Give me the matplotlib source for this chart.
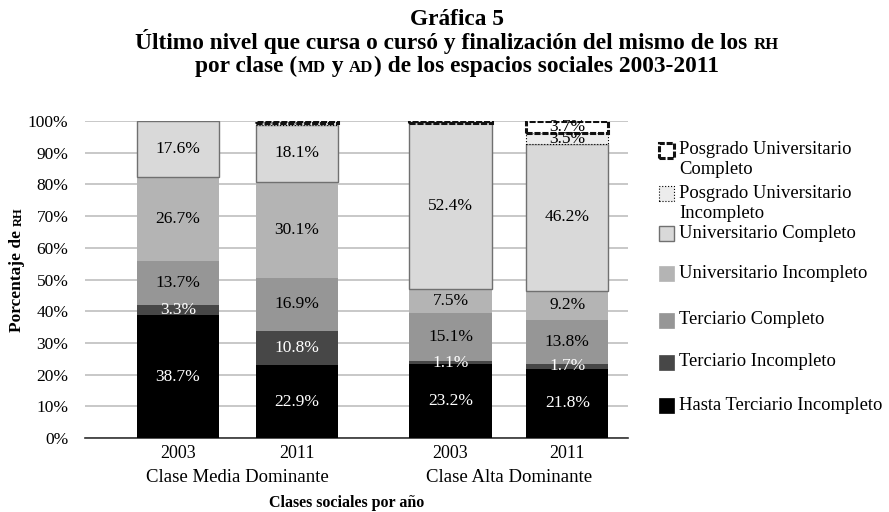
import matplotlib
matplotlib.use("Agg")
import matplotlib.pyplot as plt
from matplotlib.patches import Rectangle
import numpy as np

plt.rcParams['font.family'] = ['Liberation Serif', 'DejaVu Serif']

years = ["2003", "2011", "2003", "2011"]
classes = ["Clase Media Dominante", "Clase Alta Dominante"]
series_names = ["Hasta Terciario Incompleto", "Terciario Incompleto", "Terciario Completo",
                "Universitario Incompleto", "Universitario Completo",
                "Posgrado Universitario\nIncompleto", "Posgrado Universitario\nCompleto"]
hasta_ti = [38.7, 22.9, 23.2, 21.8]
terc_inc = [3.3, 10.8, 1.1, 1.7]
terc_comp = [13.7, 16.9, 15.1, 13.8]
univ_inc = [26.7, 30.1, 7.5, 9.2]
univ_comp = [17.6, 18.1, 52.4, 46.2]
posg_inc = [0.0, 0.5, 0.0, 3.5]
posg_comp = [0.0, 0.7, 0.7, 3.7]
show_label = [
    [True, True, True, True],
    [True, True, True, True],
    [True, True, True, True],
    [True, True, True, True],
    [True, True, True, True],
    [False, False, False, True],
    [False, False, False, True],
]

series = [hasta_ti, terc_inc, terc_comp, univ_inc, univ_comp, posg_inc, posg_comp]
facecolors = ["#000000", "#474747", "#969696", "#b4b4b4", "#d9d9d9", "#ececec", "#ffffff"]
edgecolors = ["none", "none", "none", "none", "#707070", "#000000", "#111111"]
linestyles = ["solid", "solid", "solid", "solid", "solid", ":", (0, (2.0, 0.6))]
linewidths = [0, 0, 0, 0, 1.0, 0.8, 2.2]
textcolors = ["white", "white", "black", "black", "black", "black", "black"]

W, H = 889, 512
fig = plt.figure(figsize=(W / 100, H / 100), dpi=100)
ax = fig.add_axes([85 / W, 1 - 438 / H, (628 - 85) / W, (438 - 121) / H])

x = np.array([0.0, 1.0, 2.29, 3.27])
width = 0.69
bottom = np.zeros(4)
for i, vals in enumerate(series):
    vals = np.array(vals)
    nz = vals > 0
    ax.bar(x[nz], vals[nz], width, bottom=bottom[nz], color=facecolors[i], edgecolor=edgecolors[i],
           linewidth=linewidths[i], linestyle=linestyles[i], zorder=3)
    for j in range(4):
        if show_label[i][j] and vals[j] > 0:
            ax.text(x[j], bottom[j] + vals[j] / 2, f"{vals[j]:.1f}%", ha="center", va="center",
                    fontsize=12.5, color=textcolors[i], zorder=5)
    bottom = bottom + vals

ax.set_ylim(0, 100)
ax.set_xlim(-0.78, 3.78)
ax.set_yticks(np.arange(0, 101, 10))
ax.set_yticklabels([f"{v}%" for v in range(0, 101, 10)], fontsize=12.5)
ax.yaxis.grid(True, color="#bfbfbf", linewidth=1.2, zorder=0)
ax.set_axisbelow(True)
for s in ["top", "right", "left"]:
    ax.spines[s].set_visible(False)
ax.spines["bottom"].set_color("#333333")
ax.spines["bottom"].set_linewidth(1.2)
ax.tick_params(axis="y", length=0, pad=12)
ax.tick_params(axis="x", length=0, pad=5)
ax.set_xticks(x)
ax.set_xticklabels(years, fontsize=13)
ax.text((x[0] + x[1]) / 2, -0.125, classes[0], transform=ax.get_xaxis_transform(), ha="center", va="center", fontsize=13.5)
ax.text((x[2] + x[3]) / 2, -0.125, classes[1], transform=ax.get_xaxis_transform(), ha="center", va="center", fontsize=13.5)

fig.text(347 / W, 1 - 503 / H, "Clases sociales por año", ha="center", va="center",
         fontsize=11.5, fontweight="bold")

fig.canvas.draw()
renderer = fig.canvas.get_renderer()


def draw_segments(yc, segments, size, weight="bold", xc=457):
    widths = []
    objs = []
    for txt, sc in segments:
        t = fig.text(0, 1 - yc / H, txt, fontsize=size * sc, fontweight=weight, va="baseline", ha="left")
        bb = t.get_window_extent(renderer)
        widths.append(bb.width)
        objs.append(t)
    total = sum(widths)
    cur = xc - total / 2
    for t, w in zip(objs, widths):
        t.set_x(cur / W)
        cur += w


draw_segments(25, [("Gráfica 5", 1.0)], 16.8)
draw_segments(49, [("Último nivel que cursa o cursó y finalización del mismo de los ", 1.0), ("RH", 0.72)], 16.8)
draw_segments(72, [("por clase (", 1.0), ("MD", 0.72), (" y ", 1.0), ("AD", 0.72),
                   (") de los espacios sociales 2003-2011", 1.0)], 16.8)

# rotated y label
t1 = fig.text(0, 0, "Porcentaje de ", rotation=90, fontsize=12.5, fontweight="bold", ha="center", va="bottom")
t2 = fig.text(0, 0, "RH", rotation=90, fontsize=9, fontweight="bold", ha="center", va="bottom")
h1 = t1.get_window_extent(renderer).height
h2 = t2.get_window_extent(renderer).height
yc = H - 270
start = yc - (h1 + h2) / 2
t1.set_position((17 / W, start / H))
t2.set_position((18.5 / W, (start + h1) / H))

# legend (manual)
legend_entries = [
    (6, 150, 170),
    (5, 193, 213),
    (4, 233, None),
    (3, 273, None),
    (2, 320, None),
    (1, 362, None),
    (0, 405, None),
]
box = 15
for idx, y1, y2 in legend_entries:
    lines = series_names[idx].split("\n")
    fig.patches.append(Rectangle((659 / W, 1 - (y1 + box / 2) / H), box / W, box / H,
                                 transform=fig.transFigure, facecolor=facecolors[idx],
                                 edgecolor=edgecolors[idx] if edgecolors[idx] != "none" else facecolors[idx],
                                 linewidth=linewidths[idx] if linewidths[idx] > 0 else 0.5,
                                 linestyle=linestyles[idx]))
    fig.text(679 / W, 1 - y1 / H, lines[0], fontsize=13.4, va="center", ha="left")
    if y2 is not None:
        fig.text(679 / W, 1 - y2 / H, lines[1], fontsize=13.4, va="center", ha="left")

fig.savefig("out.png", dpi=100)
